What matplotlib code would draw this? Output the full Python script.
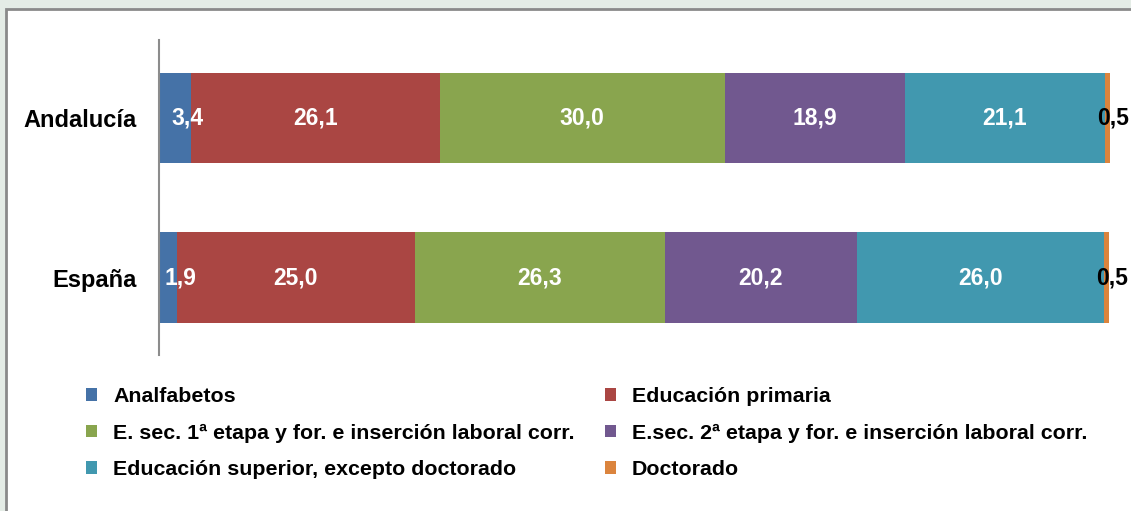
import matplotlib
matplotlib.use("Agg")
import matplotlib.pyplot as plt
from matplotlib.patches import Rectangle, Patch
import numpy as np

plt.rcParams['font.family'] = ['Liberation Sans', 'DejaVu Sans']

regions = ["España", "Andalucía"]
series_names = [
    "Analfabetos",
    "Educación primaria",
    "E. sec. 1ª etapa y for. e inserción laboral corr.",
    "E.sec. 2ª etapa y for. e inserción laboral corr.",
    "Educación superior, excepto doctorado",
    "Doctorado",
]
# values per series: [España, Andalucía]
analfabetos = [1.9, 3.4]
primaria = [25.0, 26.1]
sec1 = [26.3, 30.0]
sec2 = [20.2, 18.9]
superior = [26.0, 21.1]
doctorado = [0.5, 0.5]
series_values = [analfabetos, primaria, sec1, sec2, superior, doctorado]
colors = ["#4572A7", "#AA4643", "#89A54E", "#71588F", "#4198AF", "#DB843D"]

W, H = 1131, 511
fig = plt.figure(figsize=(W / 100, H / 100), dpi=100)
fig.patch.set_facecolor("#e4ece6")
frame = Rectangle((6 / W, -0.05), 1.2, 1 - 9 / H + 0.05, transform=fig.transFigure,
                  facecolor="white", edgecolor="#8a8a8a", linewidth=2, zorder=-10)
fig.patches.append(frame)

ax = fig.add_axes([159 / W, 1 - 355 / H, (1110 - 159) / W, (355 - 40) / H])
ax.set_facecolor("none")
ax.set_zorder(5)
y = np.arange(len(regions))
left = np.zeros(len(regions))
for si, (name, vals, c) in enumerate(zip(series_names, series_values, colors)):
    vals = np.array(vals)
    ax.barh(y, vals, left=left, height=0.565, color=c, label=name)
    for yi, (l, v) in enumerate(zip(left, vals)):
        txt = f"{v:.1f}".replace(".", ",")
        if name == "Doctorado":
            ax.annotate(txt, (l, yi), xytext=(-8, 0), textcoords="offset pixels",
                        ha="left", va="center", fontsize=16.5, fontweight="bold",
                        color="black", annotation_clip=False)
        elif si == 0:
            ax.annotate(txt, (l + v / 2, yi), xytext=(12, 0), textcoords="offset pixels",
                        ha="center", va="center", fontsize=16.5, fontweight="bold",
                        color="white")
        else:
            ax.text(l + v / 2, yi, txt, ha="center", va="center", fontsize=16.5,
                    fontweight="bold", color="white")
    left += vals

ax.set_xlim(0, 100)
ax.set_ylim(-0.486, 1.49)
ax.set_yticks(y)
ax.set_yticklabels(regions, fontsize=17, fontweight="bold")
ax.tick_params(axis="y", length=0, pad=16)
ax.set_xticks([])
for s in ["top", "right", "bottom"]:
    ax.spines[s].set_visible(False)
ax.spines["left"].set_color("#8c8c8c")
ax.spines["left"].set_linewidth(1.5)

handles = [Patch(facecolor=c, edgecolor="none") for c in colors]
order = [0, 2, 4, 1, 3, 5]
leg = fig.legend([handles[i] for i in order], [series_names[i] for i in order],
                 ncol=2, loc="upper left", bbox_to_anchor=(86 / W, 1 - 387 / H),
                 frameon=False, prop={"size": 15.4, "weight": "bold"},
                 handlelength=0.52, handleheight=0.52, handletextpad=0.75,
                 columnspacing=1.4, labelspacing=0.82, borderaxespad=0, borderpad=0)

fig.savefig("out.png", dpi=100)
